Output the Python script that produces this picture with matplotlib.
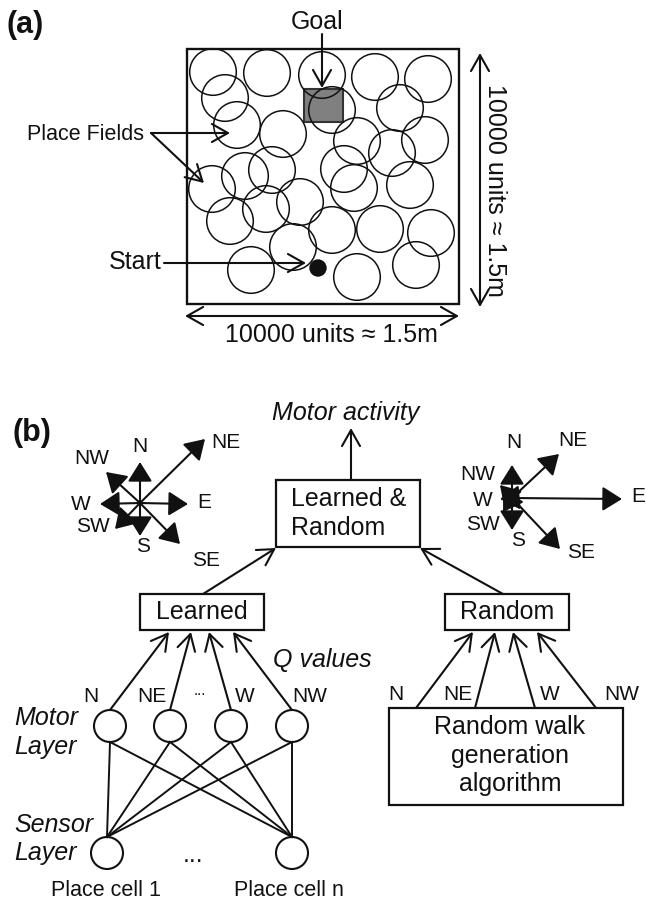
import numpy as np
import matplotlib.pyplot as plt
from matplotlib.patches import Circle, Rectangle, FancyArrowPatch

plt.rcParams['font.family'] = ['Liberation Sans', 'DejaVu Sans']
ink = '#111111'

# everything is placed in pixel units of the 646x902 picture (y downwards)

# (a) place field centres and size
fieldX = [213, 267, 322, 375, 428, 225, 332, 400, 237, 283, 357, 425, 392, 344, 245,
          272, 212, 410, 354, 266, 300, 230, 332, 380, 431, 293, 251, 357, 416]
fieldY = [72, 73, 75, 77, 79, 98, 110, 108, 125, 134, 141, 140, 153, 169, 176,
          170, 189, 185, 188, 209, 202, 221, 230, 229, 233, 247, 270, 277, 265]
fieldR = 23.3
arena = (187, 49, 459, 304)      # left, top, right, bottom
goal = (304, 89, 343, 122)
start = (318, 268)

# (b) compass roses: arrow tips and label positions
dirs = ['N', 'NE', 'E', 'NW', 'W', 'SW', 'S', 'SE']
leftCentre = (140, 503)
leftTips = [(140, 462), (205, 439), (188, 504), (106, 472), (100, 504), (115, 529), (140, 536), (180, 544)]
leftLabels = [(140, 446), (226, 442), (204, 503), (92, 458), (81, 504), (93, 527), (143, 547), (206, 560)]
rightCentre = (512, 498)
rightTips = [(512, 465), (559, 454), (622, 499), (500, 485), (500, 499), (503, 512), (512, 530), (560, 549)]
rightLabels = [(514, 443), (573, 441), (638, 497), (478, 475), (483, 500), (483, 525), (518, 540), (581, 553)]

# (b) network
qNames = ['N', 'NE', 'W', 'NW']
motorX = [110, 170, 231, 292]
motorY = 726
sensorX = [107, 292]
sensorY = 853
cellR = 16
motorTips = [(169, 632), (191, 632), (209, 632), (233, 632)]
motorLabelX = [91, 152, 245, 310]
randStartX = [416, 475, 535, 596]
randTips = [(473, 632), (495, 632), (513, 632), (537, 632)]
randLabelX = [396, 458, 550, 622]

fig = plt.figure(figsize=(6.46, 9.02), dpi=100)
ax = fig.add_axes([0, 0, 1, 1])
ax.set_xlim(0, 646)
ax.set_ylim(902, 0)
ax.axis('off')


def arrow(p0, p1, style='->', hl=1.15, hw=0.65, lw=1.5):
    a = FancyArrowPatch(p0, p1, arrowstyle='%s,head_length=%s,head_width=%s' % (style, hl, hw),
                        mutation_scale=10, lw=lw, color=ink, shrinkA=0, shrinkB=0, zorder=4)
    ax.add_patch(a)


def box(x0, y0, x1, y1, lw=1.6):
    ax.add_patch(Rectangle((x0, y0), x1 - x0, y1 - y0, fill=False, ec=ink, lw=lw, zorder=3))


def txt(x, y, s, size=18, **kw):
    kw.setdefault('ha', 'center')
    kw.setdefault('va', 'center')
    ax.text(x, y, s, fontsize=size, color=ink, **kw)


# ---- panel (a)
txt(7, 25, '(a)', size=22, weight='bold', ha='left')
box(*arena, lw=1.7)
ax.add_patch(Rectangle((goal[0], goal[1]), goal[2] - goal[0], goal[3] - goal[1],
                       fc='#808080', ec='#333333', lw=1.5, zorder=2))
for cx, cy in zip(fieldX, fieldY):
    ax.add_patch(Circle((cx, cy), fieldR, fill=False, ec=ink, lw=1.1, zorder=3))
ax.add_patch(Circle(start, 8.7, fc=ink, ec='none', zorder=4))

txt(317, 22, 'Goal')
arrow((322, 34), (322, 88))
txt(144, 135, 'Place Fields', size=15.5, ha='right')
arrow((151, 133), (230, 133))
arrow((151, 133), (204, 183))
txt(162, 262, 'Start', ha='right')
arrow((164, 263), (306, 263))

arrow((185, 316), (459, 316), style='<->')
txt(331, 335, '10000 units \u2248 1.5m')
arrow((480, 53), (480, 307), style='<->')
txt(495, 190, '10000 units \u2248 1.5m', rotation=270)

# ---- panel (b)
txt(13, 433, '(b)', size=22, weight='bold', ha='left')

for tip, lab, d in zip(leftTips, leftLabels, dirs):
    arrow(leftCentre, tip, style='-|>', hl=1.2, hw=0.75, lw=1.5)
    txt(lab[0], lab[1], d, size=15)
for tip, lab, d in zip(rightTips, rightLabels, dirs):
    arrow(rightCentre, tip, style='-|>', hl=1.2, hw=0.75, lw=1.5)
    txt(lab[0], lab[1], d, size=15)

txt(346, 413, 'Motor activity', style='italic')
arrow((351, 480), (351, 428))
box(276, 480, 420, 547)
txt(291, 499, 'Learned &', ha='left')
txt(291, 528, 'Random', ha='left')

box(140, 594, 264, 630)
txt(202, 612, 'Learned')
box(445, 594, 569, 630)
txt(507, 612, 'Random')
arrow((203, 594), (276, 548))
arrow((503, 594), (420, 548))

# motor / sensor layers
for mx in motorX:
    ax.add_patch(Circle((mx, motorY), cellR, fill=False, ec=ink, lw=1.5, zorder=3))
    for sx in sensorX:
        ax.plot([mx, sx], [motorY + cellR, sensorY - cellR], color=ink, lw=1.4)
for sx in sensorX:
    ax.add_patch(Circle((sx, sensorY), cellR, fill=False, ec=ink, lw=1.5, zorder=3))
for mx, tip, lx, name in zip(motorX, motorTips, motorLabelX, qNames):
    arrow((mx, motorY - cellR), tip)
    txt(lx, 696, name, size=15)
txt(200, 691, '...', size=11)
txt(322, 660, 'Q values', style='italic')
txt(14, 718, 'Motor', style='italic', ha='left')
txt(14, 747, 'Layer', style='italic', ha='left')
txt(14, 825, 'Sensor', style='italic', ha='left')
txt(14, 853, 'Layer', style='italic', ha='left')
txt(193, 855, '...')
txt(106, 890, 'Place cell 1', size=15.5)
txt(289, 890, 'Place cell n', size=15.5)

# random walk side
box(389, 708, 623, 805)
txt(510, 727, 'Random walk')
txt(510, 756, 'generation')
txt(510, 784, 'algorithm')
for sx, tip, lx, name in zip(randStartX, randTips, randLabelX, qNames):
    arrow((sx, 708), tip)
    txt(lx, 695, name, size=15)

fig.savefig('out.png', dpi=100)
